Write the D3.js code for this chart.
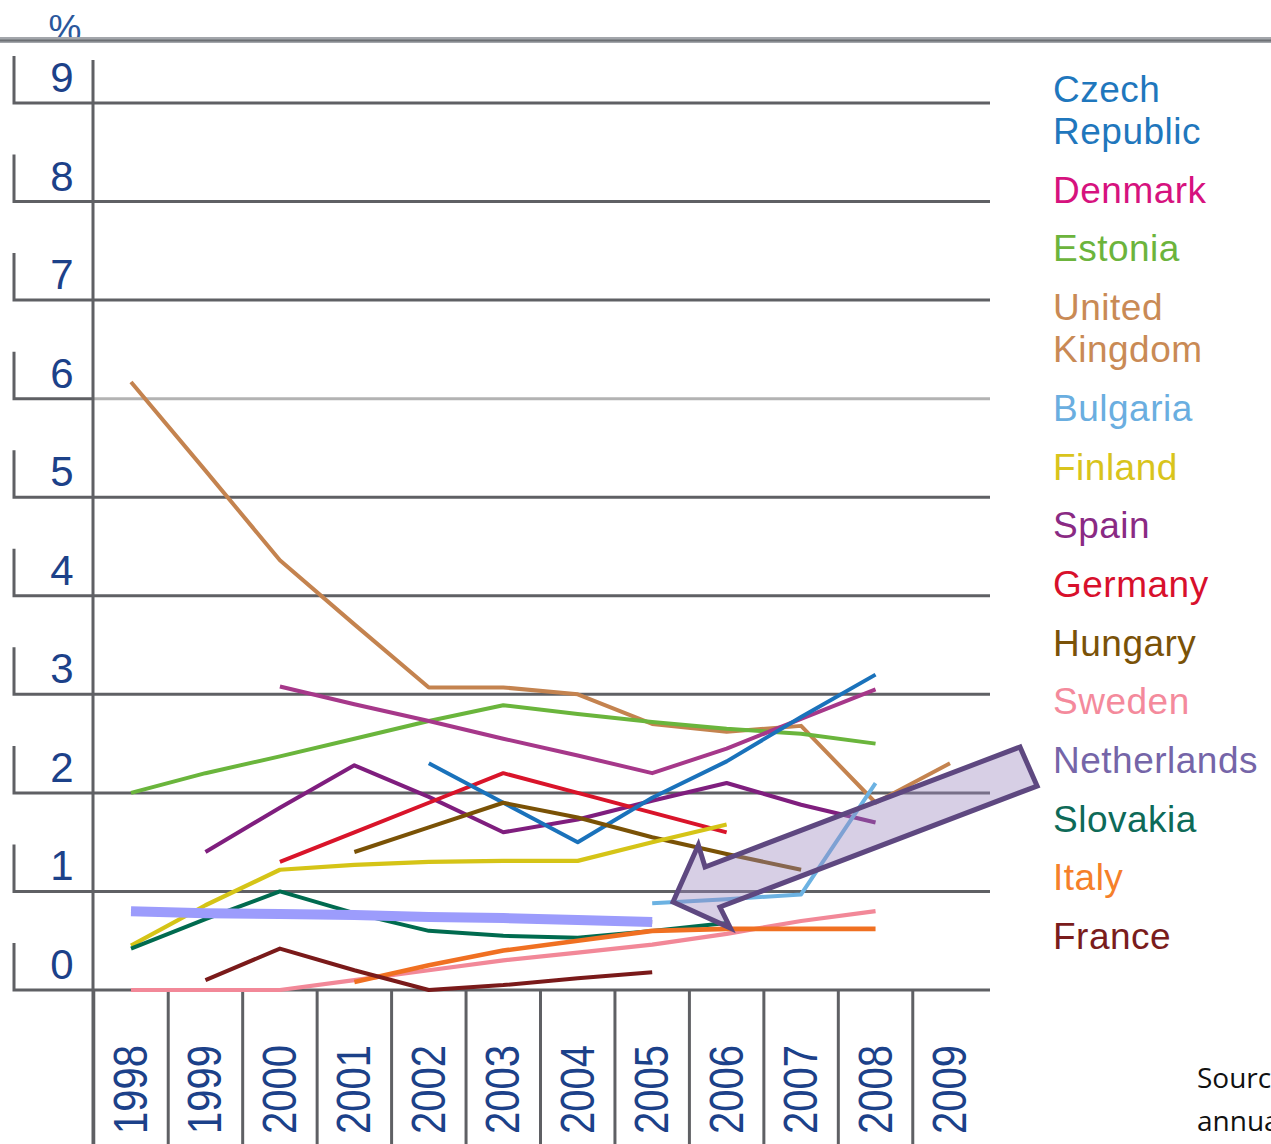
<!DOCTYPE html>
<html>
<head>
<meta charset="utf-8">
<script src="https://cdn.jsdelivr.net/npm/d3@7"></script>
<style>
  html, body { margin: 0; padding: 0; background: #ffffff; }
  svg { display: block; }
</style>
</head>
<body>
<div id="chart"></div>
<script>
// ---------- data ----------
const years = [1998, 1999, 2000, 2001, 2002, 2003, 2004, 2005, 2006, 2007, 2008, 2009];
const yTicks = [0, 1, 2, 3, 4, 5, 6, 7, 8, 9];

const czech       = [null, null, null, null, 2.30, 1.90, 1.50, 1.95, 2.32, 2.77, 3.20, null];
const denmark     = [null, null, 3.08, 2.90, 2.73, 2.55, 2.38, 2.20, 2.45, 2.75, 3.05, null];
const estonia     = [2.00, 2.20, 2.37, 2.55, 2.73, 2.89, 2.80, 2.72, 2.65, 2.60, 2.50, null];
const uk          = [6.17, 5.27, 4.36, 3.71, 3.07, 3.07, 3.00, 2.70, 2.62, 2.68, 1.90, 2.30];
const bulgaria    = [null, null, null, null, null, null, null, 0.88, 0.92, 0.97, 2.10, null];
const finland     = [0.45, 0.86, 1.22, 1.27, 1.30, 1.31, 1.31, 1.50, 1.68, null, null, null];
const spain       = [null, 1.40, 1.85, 2.28, 1.96, 1.60, 1.73, 1.92, 2.10, 1.88, 1.70, null];
const germany     = [null, null, 1.30, 1.60, 1.90, 2.20, 2.00, 1.80, 1.60, null, null, null];
const hungary     = [null, null, null, 1.40, 1.65, 1.90, 1.75, 1.55, 1.38, 1.22, null, null];
const sweden      = [0.00, 0.00, 0.00, 0.10, 0.20, 0.30, 0.38, 0.46, 0.57, 0.70, 0.80, null];
const netherlands = [0.80, 0.78, 0.77, 0.76, 0.74, 0.73, 0.71, 0.69, null, null, null, null];
const slovakia    = [0.42, 0.72, 1.00, 0.78, 0.60, 0.55, 0.53, 0.60, 0.68, null, null, null];
const italy       = [null, null, null, 0.08, 0.25, 0.40, 0.50, 0.60, 0.62, 0.62, 0.62, null];
const france      = [null, 0.10, 0.42, 0.20, 0.00, 0.05, 0.12, 0.18, null, null, null, null];

const legendNames  = [["Czech", "Republic"], ["Denmark"], ["Estonia"], ["United", "Kingdom"], ["Bulgaria"],
                      ["Finland"], ["Spain"], ["Germany"], ["Hungary"], ["Sweden"], ["Netherlands"],
                      ["Slovakia"], ["Italy"], ["France"]];
const legendColors = ["#1f77bd", "#d6127e", "#6cb43c", "#c98a55", "#6aaee0", "#d9c41c", "#8a2a84",
                      "#d8102c", "#7a5208", "#f48a9c", "#7565a8", "#0e6a58", "#f5802a", "#7a1c1c"];

// annotation arrow outline, in (year, value) space
const arrowYears  = [2009.94, 2005.71, 2005.62, 2005.28, 2006.05, 2005.91, 2010.17];
const arrowValues = [2.466, 1.248, 1.471, 0.893, 0.629, 0.842, 2.070];

// ---------- setup ----------
const W = 1271, H = 1144;
const svg = d3.select("#chart").append("svg").attr("width", W).attr("height", H);

const x = d3.scaleLinear().domain([1998, 2009]).range([131, 950]);
const y = d3.scaleLinear().domain([0, 9]).range([990, 103]);
const step = x(1999) - x(1998);

const gridColor = "#5f6064";
const numColor = "#1c4189";

// top header rule
svg.append("text").attr("x", 65).attr("y", 41).attr("text-anchor", "middle")
  .attr("font-family", "Liberation Sans, Arial, sans-serif").attr("font-size", 37)
  .attr("fill", "#2a579c").text("%");
svg.append("rect").attr("x", 0).attr("y", 37).attr("width", W).attr("height", 6).attr("fill", "#a3a6ab");
svg.append("line").attr("x1", 0).attr("x2", W).attr("y1", 40.5).attr("y2", 40.5)
  .attr("stroke", "#6d7075").attr("stroke-width", 2);

// horizontal gridlines
const grid = svg.append("g");
yTicks.forEach(v => {
  grid.append("line").attr("x1", 93).attr("x2", 990).attr("y1", y(v)).attr("y2", y(v))
    .attr("stroke", v === 6 ? "#b3b3b3" : gridColor).attr("stroke-width", 3);
  // left bracket around tick label
  grid.append("path")
    .attr("d", `M14,${y(v) - 47} L14,${y(v)} L93,${y(v)}`)
    .attr("fill", "none").attr("stroke", gridColor).attr("stroke-width", 3);
  grid.append("text").attr("x", 62).attr("y", y(v) - 11).attr("text-anchor", "middle")
    .attr("font-family", "Liberation Sans, Arial, sans-serif").attr("font-size", 42)
    .attr("fill", numColor).text(v);
});

// vertical axis
svg.append("line").attr("x1", 93).attr("x2", 93).attr("y1", 60).attr("y2", H)
  .attr("stroke", gridColor).attr("stroke-width", 3);

// year band separators & labels
years.forEach(yr => {
  const cx = x(yr);
  svg.append("line").attr("x1", cx - step / 2).attr("x2", cx - step / 2).attr("y1", 990).attr("y2", H)
    .attr("stroke", gridColor).attr("stroke-width", 3);
  svg.append("text")
    .attr("transform", `translate(${cx + 16},1134) rotate(-90)`)
    .attr("text-anchor", "start")
    .attr("font-family", "Liberation Sans, Arial, sans-serif").attr("font-size", 48)
    .attr("textLength", 89).attr("lengthAdjust", "spacingAndGlyphs")
    .attr("fill", numColor).text(yr);
});

// ---------- series ----------
const line = d3.line().defined(d => d[1] !== null).x(d => x(d[0])).y(d => y(d[1]));
const series = [
  { v: uk,          c: "#c4834f", w: 4 },
  { v: estonia,     c: "#6ab53c", w: 4 },
  { v: denmark,     c: "#a6388a", w: 4 },
  { v: spain,       c: "#7f1e7e", w: 4 },
  { v: germany,     c: "#d9142a", w: 4 },
  { v: czech,       c: "#1a72bb", w: 4 },
  { v: hungary,     c: "#7a5206", w: 4 },
  { v: finland,     c: "#d5c417", w: 4.2 },
  { v: bulgaria,    c: "#6cb2e2", w: 4 },
  { v: slovakia,    c: "#006b4f", w: 4 },
  { v: netherlands, c: "#5d4ea0", w: 4 },
  { v: sweden,      c: "#f28898", w: 4.2 },
  { v: italy,       c: "#f07022", w: 4.6 },
  { v: france,      c: "#7a1a1a", w: 4 }
];
const lines = svg.append("g").attr("fill", "none").attr("stroke-linejoin", "round");
series.forEach(s => {
  lines.append("path").datum(years.map((yr, i) => [yr, s.v[i]]))
    .attr("d", line).attr("stroke", s.c).attr("stroke-width", s.w);
});
// hand-drawn highlight over the Netherlands line
lines.append("path").datum(years.map((yr, i) => [yr, netherlands[i]]))
  .attr("d", line).attr("stroke", "#9c9cfc").attr("stroke-width", 10).attr("stroke-linecap", "butt");

// annotation arrow
const arrowPts = arrowYears.map((a, i) => [x(a), y(arrowValues[i])]);
svg.append("path").attr("d", "M" + arrowPts.map(p => p.join(",")).join("L") + "Z")
  .attr("fill", "#9b86bd").attr("fill-opacity", 0.4)
  .attr("stroke", "#5e4880").attr("stroke-width", 5).attr("stroke-linejoin", "miter");

// ---------- legend ----------
const lg = svg.append("g").attr("font-family", "Liberation Sans, Arial, sans-serif")
  .attr("font-size", 37).attr("letter-spacing", 0.5);
let extra = 0;
legendNames.forEach((lns, k) => {
  lns.forEach((t, j) => {
    lg.append("text").attr("x", 1053).attr("y", 102 + 58.7 * k + 42 * (extra + j))
      .attr("fill", legendColors[k]).text(t);
  });
  extra += lns.length - 1;
});

// source note (cut at page edge, as in the original slide)
const src = svg.append("g").attr("font-family", "Open Sans, sans-serif").attr("font-size", 28).attr("fill", "#111");
src.append("text").attr("x", 1197).attr("y", 1088).text("Source:");
src.append("text").attr("x", 1197).attr("y", 1131).text("annual");
</script>
</body>
</html>
